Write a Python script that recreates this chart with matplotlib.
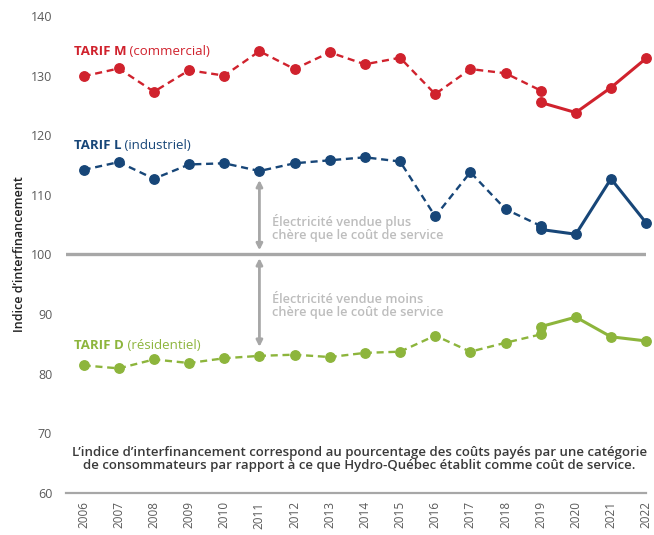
import matplotlib
matplotlib.use("Agg")
import matplotlib.pyplot as plt

plt.rcParams['font.family'] = ['Open Sans', 'DejaVu Sans']

# ---- data ----
years_hist = [2006, 2007, 2008, 2009, 2010, 2011, 2012, 2013, 2014, 2015, 2016, 2017, 2018, 2019]
years_new = [2019, 2020, 2021, 2022]

tarif_m_hist = [129.9, 131.2, 127.3, 130.9, 130.0, 134.1, 131.1, 133.9, 131.9, 133.0, 126.9, 131.1, 130.4, 127.5]
tarif_m_new = [125.5, 123.8, 128.0, 132.9]

tarif_l_hist = [114.2, 115.5, 112.7, 115.1, 115.3, 114.0, 115.3, 115.8, 116.3, 115.6, 106.4, 113.8, 107.6, 104.8]
tarif_l_new = [104.2, 103.4, 112.7, 105.3]

tarif_d_hist = [81.4, 80.9, 82.4, 81.8, 82.6, 83.0, 83.2, 82.8, 83.5, 83.7, 86.4, 83.7, 85.2, 86.6]
tarif_d_new = [87.9, 89.5, 86.2, 85.5]

yticks = [60, 70, 80, 90, 100, 110, 120, 130, 140]
xticks = list(range(2006, 2023))

RED = '#d0222d'
BLUE = '#174678'
GREEN = '#8db53c'
GRAY = '#a7a7a7'
LIGHT = '#bdbdbd'
TICK = '#5a5a5a'
DARK = '#3a3a3a'

fig = plt.figure(figsize=(6.54, 5.35), dpi=100)
ax = fig.add_axes([0.101, 0.0785, 0.887, 0.8916])
ax.set_xlim(2005.5, 2022.0)
ax.set_ylim(60, 140)

# reference line at 100
ax.axhline(100, color=GRAY, lw=2.4, zorder=1)

for hist, new, col in [(tarif_m_hist, tarif_m_new, RED),
                       (tarif_l_hist, tarif_l_new, BLUE),
                       (tarif_d_hist, tarif_d_new, GREEN)]:
    ax.plot(years_hist, hist, color=col, lw=1.7, ls=(0, (3, 2)), marker='o', ms=6.8,
            mec=col, mfc=col, clip_on=False, zorder=3)
    ax.plot(years_new, new, color=col, lw=2.2, ls='-', marker='o', ms=6.8,
            mec=col, mfc=col, clip_on=False, zorder=3)

# arrows
arrow_kw = dict(arrowstyle='<|-|>', color=GRAY, lw=2, mutation_scale=9, shrinkA=0, shrinkB=0)
ax.annotate('', xy=(2011, 112.5), xytext=(2011, 100.7), arrowprops=arrow_kw, zorder=2)
ax.annotate('', xy=(2011, 99.4), xytext=(2011, 84.5), arrowprops=arrow_kw, zorder=2)

ax.text(2011.36, 104.4, 'Électricité vendue plus\nchère que le coût de service', color=LIGHT,
        fontsize=9.2, va='center', ha='left', linespacing=1.0, fontweight='semibold')
ax.text(2011.36, 91.4, 'Électricité vendue moins\nchère que le coût de service', color=LIGHT,
        fontsize=9.2, va='center', ha='left', linespacing=1.0, fontweight='semibold')

# series labels
def label(y, bold, rest, col):
    t = ax.text(2005.72, y, bold, color=col, fontsize=9.5, fontweight='bold', va='center', ha='left')
    ax.annotate(rest, xy=(1, 0.5), xycoords=t, color=col, fontsize=9.5,
                fontweight='normal', va='center', ha='left')

label(134.0, 'TARIF M', ' (commercial)', RED)
label(118.2, 'TARIF L', ' (industriel)', BLUE)
label(84.8, 'TARIF D', ' (résidentiel)', GREEN)

# footnote
ax.text(2013.85, 65.7,
        'L’indice d’interfinancement correspond au pourcentage des coûts payés par une catégorie\n'
        'de consommateurs par rapport à ce que Hydro-Québec établit comme coût de service.',
        color=DARK, fontsize=9.5, fontweight='semibold', ha='center', va='center', linespacing=1.0)

# axes styling
for s in ['top', 'right', 'left']:
    ax.spines[s].set_visible(False)
ax.spines['bottom'].set_color(GRAY)
ax.spines['bottom'].set_linewidth(1.6)
ax.set_yticks(yticks)
ax.set_xticks(xticks)
ax.set_xticklabels([str(x) for x in xticks], rotation=90)
ax.tick_params(axis='y', length=0, labelsize=9, labelcolor=TICK, pad=10)
ax.tick_params(axis='x', length=0, labelsize=8.5, labelcolor=TICK, pad=6)
ax.set_ylabel('Indice d’interfinancement', color='#222222', fontsize=9, fontweight='semibold', labelpad=3)

fig.savefig('out.png', dpi=100, facecolor='white')
